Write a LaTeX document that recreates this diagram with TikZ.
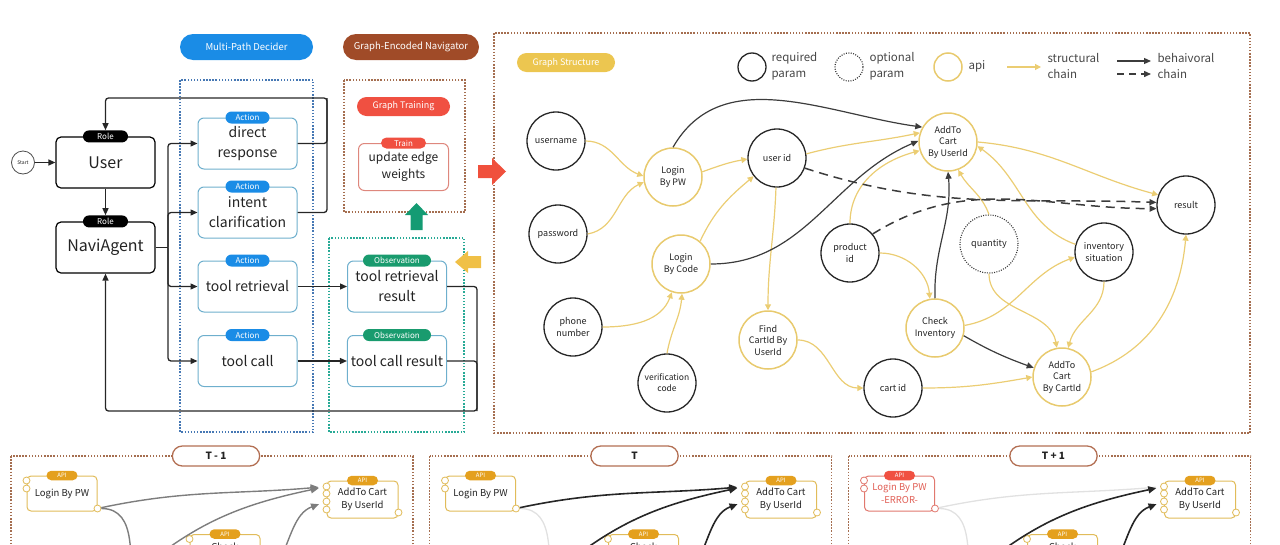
\documentclass[tikz,border=0pt]{standalone}
\usepackage{fontspec}
\setmainfont{Noto Sans CJK SC}
\usetikzlibrary{arrows.meta,shapes.misc,calc}
\definecolor{txt}{RGB}{35,35,35}
\definecolor{actblue}{RGB}{26,140,230}
\definecolor{actborder}{RGB}{110,175,205}
\definecolor{bluedot}{RGB}{70,120,180}
\definecolor{greendot}{RGB}{40,170,150}
\definecolor{obsgreen}{RGB}{25,155,110}
\definecolor{brownpill}{RGB}{160,75,40}
\definecolor{browndot}{RGB}{165,110,80}
\definecolor{redpill}{RGB}{240,80,65}
\definecolor{trainborder}{RGB}{222,135,125}
\definecolor{ypill}{RGB}{236,198,80}
\definecolor{yline}{RGB}{235,205,115}
\definecolor{ynode}{RGB}{232,202,110}
\definecolor{bline}{RGB}{60,60,60}
\definecolor{apiorange}{RGB}{228,160,30}
\definecolor{apiborder}{RGB}{225,188,90}
\definecolor{legtxt}{RGB}{70,70,70}
\definecolor{blockred}{RGB}{240,80,60}
\definecolor{blockgreen}{RGB}{20,155,115}
\definecolor{blockyellow}{RGB}{240,192,70}
\definecolor{errborder}{RGB}{225,120,110}
\definecolor{errtext}{RGB}{225,95,85}
\definecolor{lightg}{RGB}{225,225,225}
\definecolor{midg}{RGB}{125,125,125}
\begin{document}
\begin{tikzpicture}[x=1pt,y=-1pt,
  every node/.style={text=txt},
  pill/.style={rounded rectangle, inner sep=0pt, text=white},
  titlepill/.style={pill, minimum height=26pt, font=\fontsize{9.5}{11}\selectfont},
  rolebox/.style={draw=black, line width=1.2pt, rounded corners=5pt, minimum width=99pt, minimum height=51pt, font=\fontsize{16}{19}\selectfont},
  roletag/.style={pill, fill=black, minimum width=45pt, minimum height=12pt, font=\fontsize{8}{9}\selectfont},
  actbox/.style={draw=actborder, line width=1pt, rounded corners=6pt, minimum width=99pt, minimum height=51pt, align=center, font=\fontsize{14}{20}\selectfont},
  acttag/.style={pill, fill=actblue, minimum width=44pt, minimum height=12pt, font=\fontsize{8}{9}\selectfont},
  obstag/.style={acttag, fill=obsgreen, minimum width=68pt},
  karr/.style={draw=black!85, line width=1.3pt, rounded corners=3pt, -{Triangle[length=7pt,width=6pt]}},
  kline/.style={draw=black!85, line width=1.3pt, rounded corners=3pt},
  dotbox/.style={line width=1.6pt, dash pattern=on 1.5pt off 1.6pt},
  pnode/.style={circle, draw=black!85, line width=1.3pt, minimum size=58pt, inner sep=0pt, align=center, font=\fontsize{9}{11.5}\selectfont},
  anode/.style={pnode, draw=ynode, line width=1.5pt},
  onode/.style={pnode, draw=black!80, line width=1.1pt, dash pattern=on 1pt off 1.4pt},
  yarr/.style={draw=yline, line width=1.2pt, -{Triangle[length=6pt,width=6pt]}},
  barr/.style={draw=bline, line width=1.2pt, -{Triangle[length=7pt,width=6pt]}},
  darr/.style={barr, dash pattern=on 9pt off 6pt, line width=1.5pt},
  legtext/.style={anchor=west, align=left, text=legtxt, font=\fontsize{11.5}{16}\selectfont},
  apibox/.style={draw=apiborder, line width=1pt, rounded corners=4pt, minimum width=70pt, minimum height=35pt, align=center, font=\fontsize{9.5}{13}\selectfont, fill=white},
  apitag/.style={pill, fill=apiorange, minimum width=31pt, minimum height=9.5pt, font=\fontsize{6}{7}\selectfont},
  port/.style={circle, draw=apiborder, fill=white, line width=0.8pt, inner sep=0pt, minimum size=7pt},
  tpill/.style={rounded rectangle, draw=brownpill!80, line width=1.3pt, fill=white, minimum width=94pt, minimum height=20pt, font=\bfseries\fontsize{10}{12}\selectfont},
  gdark/.style={draw=black!85, line width=1.6pt, -{Triangle[length=8pt,width=7pt]}},
  gmid/.style={draw=midg, line width=1.4pt, -{Triangle[length=8pt,width=7pt]}},
  glight/.style={draw=lightg, line width=1.3pt}
]
\useasboundingbox (0,0) rectangle (1280,544);
\clip (0,0) rectangle (1280,544);

% ---------- title pills ----------
\node[titlepill, fill=actblue, minimum width=133pt] (mpd) at (246.5,47) {Multi-Path Decider};
\node[titlepill, fill=brownpill, minimum width=136pt] (gen) at (411,47) {Graph-Encoded Navigator};

% ---------- dotted frames ----------
\draw[dotbox, draw=bluedot] (180,80) rectangle (313,432);
\draw[dotbox, draw=greendot] (329,238) rectangle (464,432);
\draw[dotbox, draw=browndot] (344,80) rectangle (465,212);
\draw[dotbox, draw=browndot] (494,33) rectangle (1250,433);

% ---------- roles ----------
\node[circle, draw=black!70, line width=0.8pt, minimum size=23pt, inner sep=0pt, font=\fontsize{5}{6}\selectfont] (start) at (23,162.5) {Start};
\node[rolebox] (user) at (105.5,162.5) {User};
\node[roletag] (userrole) at (user.north) {Role};
\node[rolebox] (navi) at (105.5,247.5) {NaviAgent};
\node[roletag] (navirole) at (navi.north) {Role};

% ---------- actions ----------
\node[actbox] (dr) at (247.5,143.5) {direct\\response};
\node[acttag] at (dr.north) {Action};
\node[actbox] (ic) at (247.5,212.5) {intent\\clarification};
\node[acttag] at (ic.north) {Action};
\node[actbox] (tr) at (247.5,286.5) {tool retrieval};
\node[acttag] at (tr.north) {Action};
\node[actbox] (tc) at (247.5,361) {tool call};
\node[acttag] at (tc.north) {Action};

% ---------- observations ----------
\node[actbox] (trr) at (397,286.5) {tool retrieval\\result};
\node[obstag] at (trr.north) {Observation};
\node[actbox] (tcr) at (397,361) {tool call result};
\node[obstag] at (tcr.north) {Observation};

% ---------- training ----------
\node[pill, fill=redpill, minimum width=93pt, minimum height=19pt, font=\fontsize{9}{11}\selectfont] (gtrain) at (403.5,106.5) {Graph Training};
\node[draw=trainborder, line width=1pt, rounded corners=6pt, minimum width=90pt, minimum height=47pt, align=center, font=\fontsize{12}{17}\selectfont] (train) at (403.5,167) {update edge\\weights};
\node[pill, fill=redpill, minimum width=45pt, minimum height=11pt, font=\fontsize{8}{9}\selectfont] at (train.north) {Train};

% ---------- block arrows ----------
\fill[blockred] (478,165) -- (492,165) -- (492,158) -- (506,171.5) -- (492,185) -- (492,178) -- (478,178) -- cycle;
\fill[blockgreen] (410.5,230) -- (410.5,215) -- (405,215) -- (416.5,203) -- (428,215) -- (422.5,215) -- (422.5,230) -- cycle;
\fill[blockyellow] (481,256) -- (468,256) -- (468,251) -- (455,262) -- (468,273) -- (468,268) -- (481,268) -- cycle;

% ---------- left connectors ----------
\draw[karr] (start.east) -- (user.west);
\draw[karr] (user.south) -- (navirole.north);
\coordinate (br) at (168,247.5);
\draw[kline] (navi.east) -- (br);
\draw[karr] (br) |- (dr.west);
\draw[karr] (br) |- (ic.west);
\draw[karr] (br) |- (tr.west);
\draw[karr] (br) |- (tc.west);
\coordinate (fb) at (327,98);
\draw[karr] (dr.east) -| (fb) -| (userrole.north);
\draw[kline] (ic.east) -| (fb);
\draw[karr] (tr.east) -- (trr.west);
\draw[karr] (tc.east) -- (tcr.west);
\coordinate (rb) at (477,411);
\draw[kline] (trr.east) -| (rb);
\draw[karr] (tcr.east) -| (rb) -| (navi.south);

% ---------- graph structure ----------
\node[pill, fill=ypill, minimum width=98pt, minimum height=19pt, font=\fontsize{9}{11}\selectfont] (gs) at (566,62.5) {Graph Structure};

% legend
\node[pnode, minimum size=28pt] (lreq) at (752,67) {};
\node[legtext] (lreqt) at (768,66) {required\\param};
\node[onode, minimum size=28pt] (lopt) at (849,67) {};
\node[legtext] (loptt) at (866,66) {optional\\param};
\node[anode, minimum size=28pt] (lapi) at (948,67) {};
\node[legtext] (lapit) at (965,66) {api};
\coordinate (ls1) at (1007,67); \coordinate (ls2) at (1041,67);
\draw[yarr] (ls1) -- (ls2);
\node[legtext] (lst) at (1044,66) {structural\\chain};
\coordinate (lb1) at (1117,61); \coordinate (lb2) at (1151,61);
\draw[barr] (lb1) -- (lb2);
\coordinate (ld1) at (1117,74); \coordinate (ld2) at (1151,74);
\draw[barr, dash pattern=on 7pt off 5pt, line width=1.4pt] (ld1) -- (ld2);
\node[legtext] (lbt) at (1154,66) {behaivoral\\chain};

% nodes
\node[pnode] (un) at (556,141) {username};
\node[pnode] (pw) at (558,234) {password};
\node[pnode] (ph) at (573,327) {phone\\number};
\node[pnode, font=\fontsize{8.5}{11}\selectfont] (vc) at (667,383) {verification\\code};
\node[anode] (lpw) at (673,177) {Login\\By PW};
\node[anode] (lcode) at (681,264) {Login\\By Code};
\node[pnode] (uid) at (777,158) {user id};
\node[anode] (find) at (768,340) {Find\\CartId By\\UserId};
\node[pnode] (cid) at (893,388) {cart id};
\node[anode] (auid) at (948,142) {AddTo\\Cart\\By UserId};
\node[pnode] (pid) at (850,253) {product\\id};
\node[onode] (qty) at (989,244) {quantity};
\node[pnode] (inv) at (1104,252) {inventory\\situation};
\node[anode] (chk) at (935,328) {Check\\Inventory};
\node[anode] (acid) at (1062,377) {AddTo\\Cart\\By CartId};
\node[pnode] (res) at (1186,205) {result};

% structural (yellow)
\draw[yarr] (un.east) to[out=0,in=160] (lpw.178);
\draw[yarr] (pw.east) to[out=10,in=205] (lpw.190);
\draw[yarr] (lpw.10) to[out=20,in=190] (uid.182);
\draw[yarr] (lcode.50) to[out=65,in=220] (uid.218);
\draw[yarr] (ph.east) to[out=0,in=250] (lcode.252);
\draw[yarr] (vc.north) to[out=80,in=265] (lcode.272);
\draw[yarr] (uid.8) to[out=15,in=192] (auid.162);
\draw[yarr] (uid.268) to[out=-92,in=90] (find.north);
\draw[yarr] (find.east) to[out=0,in=180] (cid.west);
\draw[yarr] (cid.east) to[out=0,in=190] (acid.west);
\draw[yarr] (pid.north) to[out=90,in=195] (auid.197);
\draw[yarr] (pid.east) to[out=0,in=95] (chk.100);
\draw[yarr] (qty.north) to[out=110,in=-60] (auid.-70);
\draw[yarr] (qty.south) to[out=-90,in=100] (acid.100);
\draw[yarr] (chk.5) to[out=10,in=200] (inv.190);
\draw[yarr] (inv.south) to[out=-90,in=75] (acid.78);
\draw[yarr] (inv.165) to[out=160,in=-35] (auid.-8);
\draw[yarr] (auid.east) to[out=-5,in=165] (res.160);
\draw[yarr] (acid.10) to[out=20,in=-95] (res.south);

% behavioral (black)
\draw[barr] (lpw.north) to[out=60,in=172] (auid.150);
\draw[barr] (lcode.east) to[out=0,in=203] (auid.178);
\draw[barr] (chk.north) to[out=92,in=-85] (auid.south);
\draw[barr] (chk.-15) to[out=-30,in=160] (acid.162);
\draw[darr] (uid.-20) to[out=-18,in=178] (res.175);
\draw[darr] (pid.40) to[out=32,in=180] (res.187);

% ---------- bottom panels ----------
% T-1
\draw[dotbox, draw=browndot] (11,456) rectangle (413,620);
\node[tpill] (lblA) at (216,456) {T - 1};
\node[apibox] (lpwA) at (62,493.5) {Login By PW};
\node[apitag] at (lpwA.north) {API};
\node[port] at ($(lpwA.north west)+(0,5)$) {};
\node[port] at ($(lpwA.north west)+(0,13)$) {};
\node[port] (lpwAo) at ($(lpwA.south east)+(0,-3)$) {};
\node[apibox, minimum width=71pt, minimum height=37pt] (aucA) at (362.5,499.5) {AddTo Cart\\By UserId};
\node[apitag] at (aucA.north) {API};
\node[port] (aucA1) at ($(aucA.north west)+(0,6)$) {};
\node[port] (aucA2) at ($(aucA.north west)+(0,13)$) {};
\node[port] (aucA3) at ($(aucA.north west)+(0,21)$) {};
\node[port] (aucA4) at ($(aucA.north west)+(0,29)$) {};
\node[port] at ($(aucA.south east)+(0,-6)$) {};
\node[apibox, anchor=north, minimum height=40pt] (chkA) at (225,534) {Check\\Inventory};
\node[apitag] at (chkA.north) {API};
\node[port] at ($(chkA.north west)+(0,5)$) {};
\coordinate (a0) at (132,600);
\coordinate (a1) at (140,570);
\coordinate (a2) at (278,565);
\draw[gmid, -] (lpwAo) to[out=0,in=95] (a0);
\draw[gmid, shorten >=4pt] (lpwAo) to[out=12,in=185] (aucA1);
\draw[gmid, shorten >=4pt] (a1) to[out=40,in=192] (aucA1);
\draw[gmid, shorten >=4pt] (a2) to[out=65,in=200] (aucA3);

% T
\begin{scope}[shift={(418.5,0)}]
\draw[dotbox, draw=browndot] (11,456) rectangle (413,620);
\node[tpill] (lblB) at (216,456) {T};
\node[apibox] (lpwB) at (62,493.5) {Login By PW};
\node[apitag] at (lpwB.north) {API};
\node[port] at ($(lpwB.north west)+(0,5)$) {};
\node[port] at ($(lpwB.north west)+(0,13)$) {};
\node[port] (lpwBo) at ($(lpwB.south east)+(0,-3)$) {};
\node[apibox, minimum width=71pt, minimum height=37pt] (aucB) at (362.5,499.5) {AddTo Cart\\By UserId};
\node[apitag] at (aucB.north) {API};
\node[port] (aucB1) at ($(aucB.north west)+(0,6)$) {};
\node[port] (aucB2) at ($(aucB.north west)+(0,13)$) {};
\node[port] (aucB3) at ($(aucB.north west)+(0,21)$) {};
\node[port] (aucB4) at ($(aucB.north west)+(0,29)$) {};
\node[port] at ($(aucB.south east)+(0,-6)$) {};
\node[apibox, anchor=north, minimum height=40pt] (chkB) at (225,534) {Check\\Inventory};
\node[apitag] at (chkB.north) {API};
\node[port] at ($(chkB.north west)+(0,5)$) {};
\coordinate (b0) at (132,600);
\coordinate (b1) at (140,570);
\coordinate (b2) at (278,565);
\draw[glight] (lpwBo) to[out=0,in=95] (b0);
\draw[gdark, shorten >=4pt] (lpwBo) to[out=12,in=185] (aucB1);
\draw[gdark, shorten >=4pt] (b1) to[out=40,in=192] (aucB1);
\draw[gdark, shorten >=4pt] (b2) to[out=65,in=200] (aucB3);
\end{scope}

% T+1
\begin{scope}[shift={(837.5,0)}]
\draw[dotbox, draw=browndot] (11,456) rectangle (413,620);
\node[tpill] (lblC) at (216,456) {T + 1};
\node[apibox, draw=errborder, text=errtext] (lpwC) at (62,493.5) {Login By PW\\-ERROR-};
\node[apitag, fill=redpill] at (lpwC.north) {API};
\node[port, draw=errborder] at ($(lpwC.north west)+(0,5)$) {};
\node[port, draw=errborder] at ($(lpwC.north west)+(0,13)$) {};
\node[port, draw=errborder] (lpwCo) at ($(lpwC.south east)+(0,-3)$) {};
\node[apibox, minimum width=71pt, minimum height=37pt] (aucC) at (362.5,499.5) {AddTo Cart\\By UserId};
\node[apitag] at (aucC.north) {API};
\node[port] (aucC1) at ($(aucC.north west)+(0,6)$) {};
\node[port] (aucC2) at ($(aucC.north west)+(0,13)$) {};
\node[port] (aucC3) at ($(aucC.north west)+(0,21)$) {};
\node[port] (aucC4) at ($(aucC.north west)+(0,29)$) {};
\node[port] at ($(aucC.south east)+(0,-6)$) {};
\node[apibox, anchor=north, minimum height=40pt] (chkC) at (225,534) {Check\\Inventory};
\node[apitag] at (chkC.north) {API};
\node[port] at ($(chkC.north west)+(0,5)$) {};
\coordinate (c0) at (132,600);
\coordinate (c1) at (140,570);
\coordinate (c2) at (278,565);
\draw[glight] (lpwCo) to[out=0,in=95] (c0);
\draw[glight, shorten >=4pt] (lpwCo) to[out=12,in=185] (aucC1);
\draw[gdark, shorten >=4pt] (c1) to[out=40,in=192] (aucC1);
\draw[gdark, shorten >=4pt] (c2) to[out=65,in=200] (aucC3);
\end{scope}
\end{tikzpicture}
\end{document}
